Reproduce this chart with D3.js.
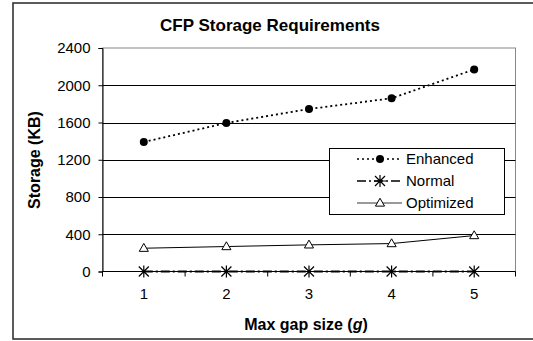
<!DOCTYPE html>
<html>
<head>
<meta charset="utf-8">
<script src="https://cdn.jsdelivr.net/npm/d3@7/dist/d3.min.js"></script>
<style>
  body { margin: 0; background: #fff; }
  svg { display: block; font-family: "Liberation Sans", Arial, sans-serif; }
</style>
</head>
<body>
<div id="chart"></div>
<script>
// data
var gaps = [1, 2, 3, 4, 5];
var enhanced = [1390, 1595, 1745, 1860, 2170];
var normal = [0, 0, 0, 0, 0];
var optimized = [250, 268, 286, 300, 386];
var yTicks = [0, 400, 800, 1200, 1600, 2000, 2400];
var seriesNames = ["Enhanced", "Normal", "Optimized"];

var W = 533, H = 341;
var plot = {left: 102.5, right: 515.5, top: 48, bottom: 271.5};

var svg = d3.select("#chart").append("svg")
    .attr("width", W)
    .attr("height", H);

// outer frame (right side runs off the picture)
svg.append("rect")
    .attr("x", 13).attr("y", 3)
    .attr("width", 540).attr("height", 336)
    .attr("fill", "none")
    .attr("stroke", "#333")
    .attr("stroke-width", 1.6);

var x = d3.scaleBand().domain(gaps).range([plot.left, plot.right]).padding(0);
var y = d3.scaleLinear().domain([0, 2400]).range([plot.bottom, plot.top]);
var cx = function(g) { return x(g) + x.bandwidth() / 2; };

// plot border (grey top/right)
svg.append("rect")
    .attr("x", plot.left).attr("y", plot.top)
    .attr("width", plot.right - plot.left)
    .attr("height", plot.bottom - plot.top)
    .attr("fill", "none")
    .attr("stroke", "#888")
    .attr("stroke-width", 1);

// gridlines
svg.append("g")
    .selectAll("line")
    .data(yTicks.filter(function(t) { return t > 0 && t < 2400; }))
    .enter().append("line")
    .attr("x1", plot.left).attr("x2", plot.right)
    .attr("y1", function(d) { return Math.round(y(d)) + 0.5; })
    .attr("y2", function(d) { return Math.round(y(d)) + 0.5; })
    .attr("stroke", "#000")
    .attr("stroke-width", 1);

// y axis
var yAxis = svg.append("g")
    .attr("transform", "translate(" + plot.left + ",0)")
    .call(d3.axisLeft(y).tickValues(yTicks).tickFormat(d3.format("d"))
      .tickSize(4).tickPadding(8));
yAxis.select(".domain").attr("stroke", "#000");
yAxis.selectAll("text").attr("font-size", 15).attr("fill", "#000")
    .attr("font-family", "Liberation Sans, Arial, sans-serif");

// x axis: labels at band centres, ticks at band edges
var xAxis = svg.append("g")
    .attr("transform", "translate(0," + plot.bottom + ")")
    .call(d3.axisBottom(x).tickSize(0).tickPadding(17));
xAxis.select(".domain").remove();
xAxis.selectAll("text").attr("font-size", 15).attr("fill", "#000")
    .attr("font-family", "Liberation Sans, Arial, sans-serif");

var edges = gaps.map(function(g) { return x(g); }).concat([x.range()[1]]);
svg.append("line")
    .attr("x1", plot.left).attr("x2", plot.right)
    .attr("y1", plot.bottom).attr("y2", plot.bottom)
    .attr("stroke", "#000");
svg.append("g").selectAll("line")
    .data(edges)
    .enter().append("line")
    .attr("x1", function(d) { return d; }).attr("x2", function(d) { return d; })
    .attr("y1", plot.bottom).attr("y2", plot.bottom + 5)
    .attr("stroke", "#000");

// series
var line = d3.line()
    .x(function(d, i) { return cx(gaps[i]); })
    .y(function(d) { return y(d); });

var styles = {
  Enhanced: {dash: "2,3", width: 1.8},
  Normal: {dash: "9,3,2,3", width: 2},
  Optimized: {dash: null, width: 1}
};

var asterisk = function(s) {
  return "M" + (-s) + "," + (-s) + "L" + s + "," + s +
         "M" + (-s) + "," + s + "L" + s + "," + (-s) +
         "M0," + (-s * 1.2) + "L0," + (s * 1.2) +
         "M" + (-s * 1.2) + ",0L" + (s * 1.2) + ",0";
};

var drawMarker = function(g, name, px, py) {
  if (name === "Enhanced") {
    g.append("circle").attr("cx", px).attr("cy", py).attr("r", 4)
        .attr("fill", "#000");
  } else if (name === "Normal") {
    g.append("path").attr("d", asterisk(5))
        .attr("transform", "translate(" + px + "," + py + ")")
        .attr("stroke", "#000").attr("stroke-width", 1.2).attr("fill", "none");
  } else {
    g.append("path").attr("d", d3.symbol().type(d3.symbolTriangle).size(36)())
        .attr("transform", "translate(" + px + "," + (py + 0.5) + ")")
        .attr("stroke", "#000").attr("stroke-width", 1).attr("fill", "#fff");
  }
};

var seriesData = {Enhanced: enhanced, Normal: normal, Optimized: optimized};

seriesNames.forEach(function(name) {
  var vals = seriesData[name];
  var g = svg.append("g");
  g.append("path")
      .datum(vals)
      .attr("d", line)
      .attr("fill", "none")
      .attr("stroke", "#000")
      .attr("stroke-width", styles[name].width)
      .attr("stroke-dasharray", styles[name].dash);
  vals.forEach(function(v, i) {
    drawMarker(g, name, cx(gaps[i]), y(v));
  });
});

// legend
var legend = svg.append("g");
legend.append("rect")
    .attr("x", 329.5).attr("y", 148.5)
    .attr("width", 175).attr("height", 66)
    .attr("fill", "#fff")
    .attr("stroke", "#000");

seriesNames.forEach(function(name, i) {
  var ly = 159 + i * 22;
  legend.append("line")
      .attr("x1", 357).attr("x2", 402)
      .attr("y1", ly).attr("y2", ly)
      .attr("stroke", "#000")
      .attr("stroke-width", styles[name].width * 0.8)
      .attr("stroke-dasharray", styles[name].dash);
  drawMarker(legend, name, 380, ly);
  legend.append("text")
      .attr("x", 406).attr("y", ly + 5)
      .attr("font-size", 15)
      .text(name);
});

// titles
svg.append("text")
    .attr("x", 270).attr("y", 31)
    .attr("text-anchor", "middle")
    .attr("font-size", 17)
    .attr("font-weight", "bold")
    .text("CFP Storage Requirements");

svg.append("text")
    .attr("transform", "translate(40,160) rotate(-90)")
    .attr("text-anchor", "middle")
    .attr("font-size", 16)
    .attr("font-weight", "bold")
    .text("Storage (KB)");

var xt = svg.append("text")
    .attr("x", 306).attr("y", 330)
    .attr("text-anchor", "middle")
    .attr("font-size", 16)
    .attr("font-weight", "bold");
xt.append("tspan").text("Max gap size (");
xt.append("tspan").attr("font-style", "italic").text("g");
xt.append("tspan").text(")");
</script>
</body>
</html>
